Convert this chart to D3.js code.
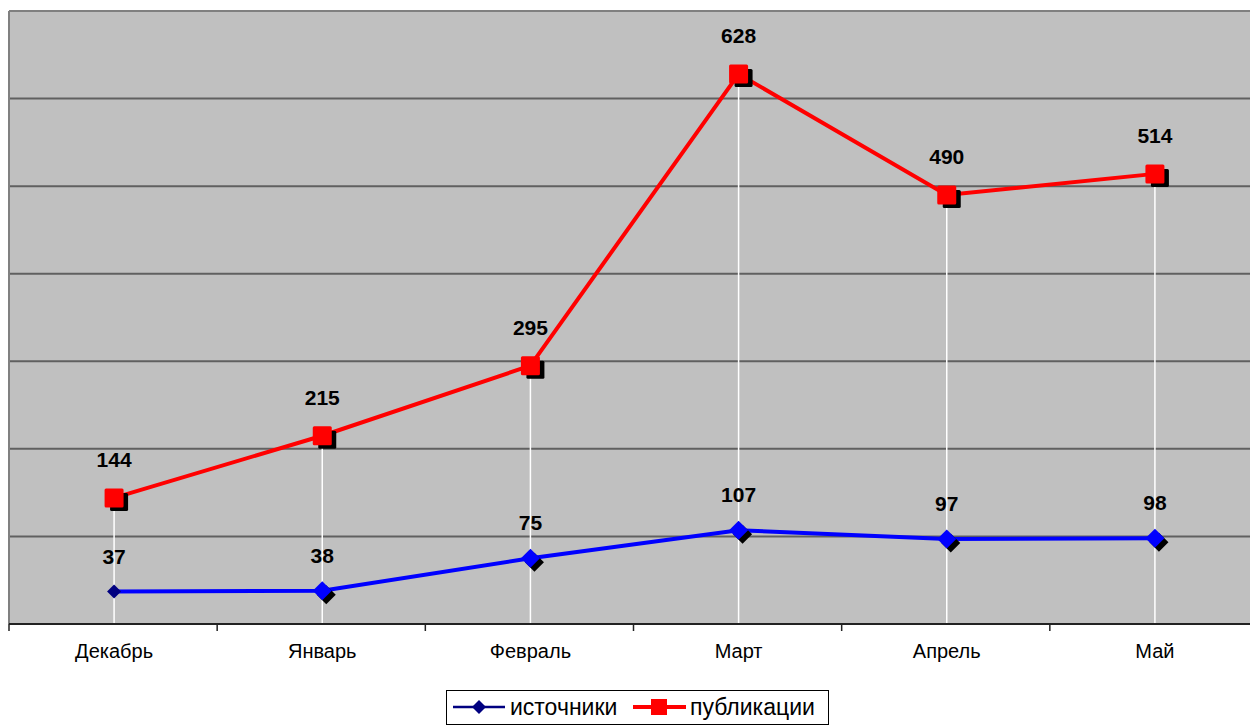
<!DOCTYPE html>
<html><head><meta charset="utf-8">
<script src="https://cdn.jsdelivr.net/npm/d3@7"></script>
<style>body{margin:0;background:#fff}svg{display:block}text{font-family:Arial,"Liberation Sans",sans-serif}</style>
</head><body><svg id="c" width="1250" height="725"></svg>
<script>
const categories = ["Декабрь","Январь","Февраль","Март","Апрель","Май"];
const sources = [37,38,75,107,97,98];
const publications = [144,215,295,628,490,514];
const seriesNames = ["источники","публикации"];
const yTicks = [0,100,200,300,400,500,600,700];

const svg = d3.select("#c");
const L = 10, R = 1259, T = 11, B = 624;
const x = d3.scaleBand().domain(categories).range([L, R]);
const cx = c => x(c) + x.bandwidth()/2;
const y = d3.scaleLinear().domain([0,700]).range([B, T]);

// plot background
svg.append("rect").attr("x",L).attr("y",T).attr("width",R-L).attr("height",B-T).attr("fill","#c0c0c0");
// grid
svg.selectAll(".g").data(yTicks.slice(1,-1)).enter().append("line")
  .attr("x1",L).attr("x2",R).attr("y1",d=>y(d)).attr("y2",d=>y(d))
  .attr("stroke","#606060").attr("stroke-width",2);
// border top & left
svg.append("line").attr("x1",L-1).attr("x2",R).attr("y1",T).attr("y2",T).attr("stroke","#808080").attr("stroke-width",2);
svg.append("line").attr("x1",L-1).attr("x2",L-1).attr("y1",T).attr("y2",B).attr("stroke","#808080").attr("stroke-width",2);

// drop lines
svg.selectAll(".drop").data(categories).enter().append("line")
  .attr("x1",d=>cx(d)).attr("x2",d=>cx(d))
  .attr("y1",(d,i)=>y(publications[i])).attr("y2",B)
  .attr("stroke","#ffffff").attr("stroke-width",1.5);

// x axis
const xAxis = d3.axisBottom(x).tickSize(0).tickPadding(20);
const ax = svg.append("g").attr("transform",`translate(0,${B})`).call(xAxis);
ax.select(".domain").remove();
ax.selectAll("text").attr("font-size",20).attr("fill","#000");
svg.append("line").attr("x1",L-1).attr("x2",R).attr("y1",B).attr("y2",B).attr("stroke","#222").attr("stroke-width",2);
svg.selectAll(".tk").data(d3.range(categories.length+1)).enter().append("line")
  .attr("x1",i=>L-1+i*x.step()).attr("x2",i=>L-1+i*x.step())
  .attr("y1",B).attr("y2",B+7).attr("stroke","#222").attr("stroke-width",1.5);

const line = d3.line().x((d,i)=>cx(categories[i])).y(d=>y(d));
// blue line
svg.append("path").datum(sources).attr("d",line).attr("fill","none").attr("stroke","#0000ff").attr("stroke-width",4);
// red line
svg.append("path").datum(publications).attr("d",line).attr("fill","none").attr("stroke","#ff0000").attr("stroke-width",4);

// blue diamonds
const dia = s => `M0,${-s} L${s},0 L0,${s} L${-s},0Z`;
sources.forEach((v,i)=>{
  const g = svg.append("g").attr("transform",`translate(${cx(categories[i])},${y(v)})`);
  if(i===0){
    g.append("path").attr("d",dia(7)).attr("fill","#000080");
  } else {
    g.append("path").attr("d",dia(9.5)).attr("transform","translate(4,4)").attr("fill","#000");
    g.append("path").attr("d",dia(9.5)).attr("fill","#0000ff");
  }
});
// red squares
publications.forEach((v,i)=>{
  const g = svg.append("g").attr("transform",`translate(${cx(categories[i])},${y(v)})`);
  g.append("rect").attr("x",-9+5).attr("y",-9+4).attr("width",18).attr("height",18).attr("rx",1.5).attr("fill","#000");
  g.append("rect").attr("x",-9.5).attr("y",-9.5).attr("width",19).attr("height",19).attr("rx",1.5).attr("fill","#ff0000");
});

// labels
const lab = (arr, off) => arr.forEach((v,i)=>{
  svg.append("text").attr("x",cx(categories[i])).attr("y",y(v)-off)
    .attr("text-anchor","middle").attr("font-size",21).attr("font-weight","bold").attr("fill","#000").text(v);
});
lab(publications, 31);
lab(sources, 28);

// legend
const lg = svg.append("g");
lg.append("rect").attr("x",446.5).attr("y",690.5).attr("width",382).attr("height",34).attr("fill","#fff").attr("stroke","#000").attr("stroke-width",1);
lg.append("line").attr("x1",453).attr("x2",505).attr("y1",707).attr("y2",707).attr("stroke","#000080").attr("stroke-width",2.5);
lg.append("path").attr("d",dia(7)).attr("transform","translate(479,707)").attr("fill","#000080");
lg.append("text").attr("x",510).attr("y",715).attr("font-size",23).text(seriesNames[0]);
lg.append("line").attr("x1",633).attr("x2",686).attr("y1",707).attr("y2",707).attr("stroke","#ff0000").attr("stroke-width",4);
lg.append("rect").attr("x",651).attr("y",699).attr("width",16).attr("height",16).attr("fill","#ff0000");
lg.append("text").attr("x",690).attr("y",715).attr("font-size",23).text(seriesNames[1]);
</script></body></html>
